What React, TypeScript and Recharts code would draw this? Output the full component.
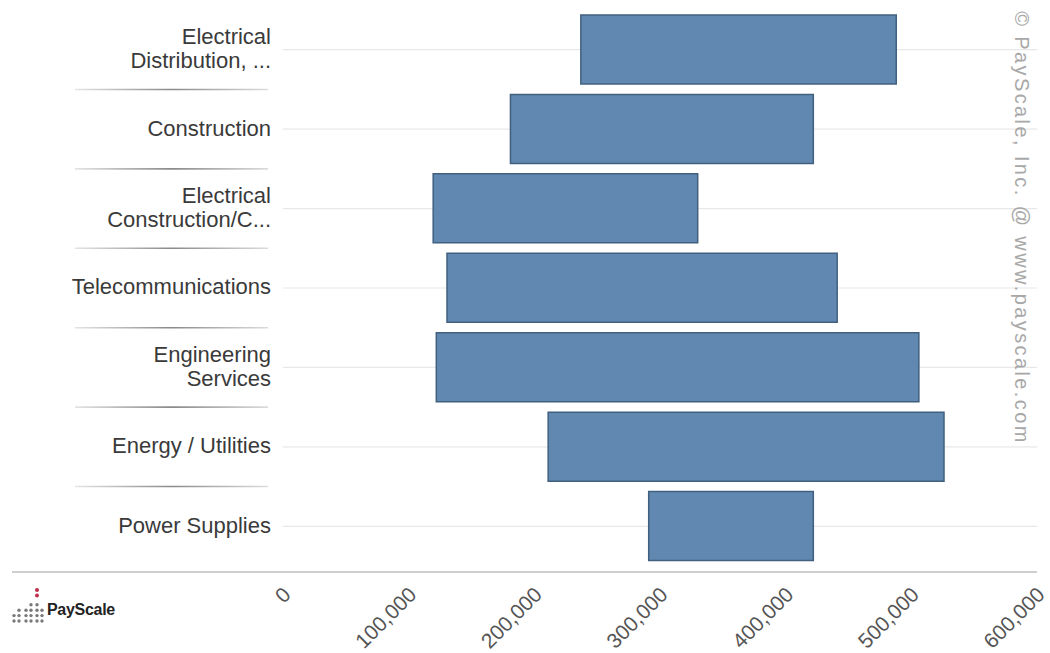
import React from "react";
import { BarChart, Bar, XAxis, YAxis, CartesianGrid } from "recharts";

// industry rows, top to bottom (label lines as shown in the picture)
const industryLines = [
  ["Electrical", "Distribution, ..."],
  ["Construction"],
  ["Electrical", "Construction/C..."],
  ["Telecommunications"],
  ["Engineering", "Services"],
  ["Energy / Utilities"],
  ["Power Supplies"],
];
const industries = industryLines.map((l) => l.join(" "));

// salary range per industry (low end, high end)
const payLow = [237000, 181000, 119500, 130500, 122000, 211000, 291000];
const payHigh = [488000, 422000, 330000, 441000, 506000, 526000, 422000];

const xTicks = [0, 100000, 200000, 300000, 400000, 500000, 600000];

const data = industries.map((industry, i) => ({
  industry,
  range: [payLow[i], payHigh[i]],
}));

const W = 1050;
const H = 653;
const FONT = "'Liberation Sans', Arial, sans-serif";
const AXIS_Y = 572;

function IndustryTick(props: any) {
  const { x, y, payload } = props;
  const idx = industries.indexOf(payload.value);
  const lines = industryLines[idx] || [payload.value];
  const lh = 24;
  const start = y - 1.5 - ((lines.length - 1) * lh) / 2;
  const off = payload.offset || 0;
  const gid = `sep-${idx}`;
  return (
    <g>
      {lines.map((t, k) => (
        <text
          key={k}
          x={x - 4}
          y={start + k * lh}
          dy="0.36em"
          textAnchor="end"
          fill="#3a3a3a"
          fontSize={22}
          fontFamily={FONT}
        >
          {t}
        </text>
      ))}
      {idx < industries.length - 1 && (
        <g>
          <defs>
            <linearGradient id={gid} gradientUnits="userSpaceOnUse" x1={75} x2={268} y1={0} y2={0}>
              <stop offset="0%" stopColor="#e4e4e4" />
              <stop offset="50%" stopColor="#8a8a8a" />
              <stop offset="100%" stopColor="#dcdcdc" />
            </linearGradient>
          </defs>
          <line x1={75} x2={268} y1={y + off} y2={y + off} stroke={`url(#${gid})`} strokeWidth={1.6} />
        </g>
      )}
    </g>
  );
}

function PayTick(props: any) {
  const { x, y, payload } = props;
  const ax = x + 9;
  const ay = y + 24;
  return (
    <text
      x={ax}
      y={ay}
      textAnchor="end"
      transform={`rotate(-45, ${ax}, ${ay})`}
      fill="#555"
      fontSize={21}
      fontFamily={FONT}
    >
      {Number(payload.value).toLocaleString("en-US")}
    </text>
  );
}

function Logo() {
  // small dot-grid mark of the PayScale logo
  const cols = [
    { x: 14, n: 2 },
    { x: 19, n: 3 },
    { x: 26, n: 3 },
    { x: 31, n: 4 },
    { x: 37, n: 4 },
    { x: 42, n: 3 },
  ];
  return (
    <g>
      {cols.map((c) =>
        Array.from({ length: c.n }).map((_, k) => (
          <circle key={`${c.x}-${k}`} cx={c.x} cy={621 - k * 5.4} r={1.7} fill="#7a7a7a" />
        ))
      )}
      <circle cx={37} cy={590} r={2} fill="#c0304a" />
      <circle cx={37} cy={595.5} r={2} fill="#c0304a" />
      <text x={47} y={615} fontSize={16} fontWeight="bold" fill="#222" fontFamily={FONT} letterSpacing={-0.3}>
        PayScale
      </text>
    </g>
  );
}

export default function App() {
  return (
    <div style={{ position: "absolute", left: 0, top: 0, width: W, height: H, background: "#fff" }}>
      <BarChart
        width={W}
        height={H}
        data={data}
        layout="vertical"
        margin={{ top: 10, right: 13, bottom: 0, left: 0 }}
      >
        <CartesianGrid
          horizontal
          vertical={false}
          horizontalValues={industries}
          stroke="#e8e8e8"
          strokeWidth={1.2}
        />
        <XAxis
          type="number"
          domain={[0, 600000]}
          ticks={xTicks}
          height={81}
          axisLine={false}
          tickLine={false}
          tickSize={0}
          tickMargin={0}
          interval={0}
          tick={<PayTick />}
        />
        <YAxis
          type="category"
          dataKey="industry"
          width={283}
          axisLine={false}
          tickLine={false}
          padding={{ top: 0, bottom: 6 }}
          interval={0}
          tick={<IndustryTick />}
        />
        <Bar
          dataKey="range"
          barSize={69}
          fill="#6088b1"
          stroke="#41607f"
          strokeWidth={1.5}
          isAnimationActive={false}
        />
      </BarChart>
      <svg
        width={W}
        height={H}
        style={{ position: "absolute", left: 0, top: 0, pointerEvents: "none" }}
      >
        <line x1={12} x2={1037} y1={AXIS_Y} y2={AXIS_Y} stroke="#cfcfcf" strokeWidth={2} />
        <text
          x={1022}
          y={228}
          textAnchor="middle"
          dominantBaseline="central"
          transform="rotate(90, 1022, 228)"
          fill="#a8a8a8"
          fontSize={20}
          letterSpacing={2.4}
          fontFamily={FONT}
        >
          © PayScale, Inc. @ www.payscale.com
        </text>
        <Logo />
      </svg>
    </div>
  );
}
